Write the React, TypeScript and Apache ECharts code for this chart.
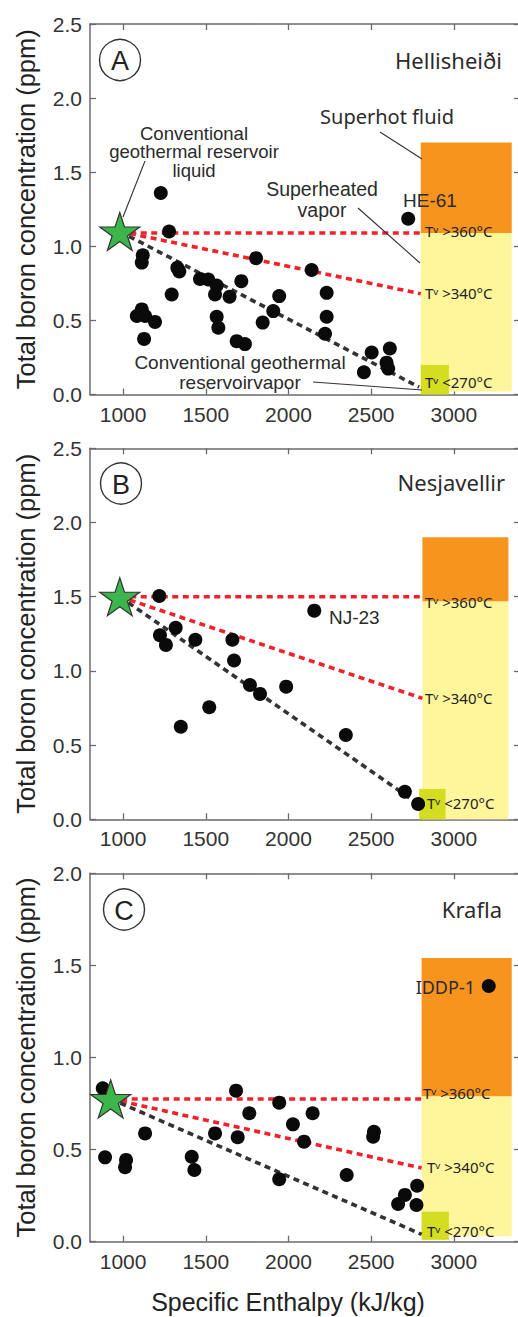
import React, { useEffect, useRef } from 'react';
import * as echarts from 'echarts';

// ---------- data ----------
const xTicks = [1000, 1500, 2000, 2500, 3000];
const yMaxes = [2.5, 2.5, 2.0];
const yAxisName = 'Total boron concentration (ppm)';
const xAxisName = 'Specific Enthalpy (kJ/kg)';

// Panel A – Hellisheiði
const hellisheidiEnthalpy = [1228, 1278, 1119, 1113, 1328, 1340, 1465, 1515, 1566, 1556, 1644, 1715, 1804, 1294, 1113, 1083, 1133, 1193, 1127, 1566, 1576, 1687, 1737, 1844, 2140, 2231, 2231, 2221, 1944, 1908, 2503, 2613, 2593, 2603, 2456];
const hellisheidiBoron = [1.36, 1.1, 0.94, 0.89, 0.855, 0.83, 0.78, 0.776, 0.735, 0.675, 0.66, 0.765, 0.92, 0.675, 0.574, 0.53, 0.53, 0.49, 0.375, 0.525, 0.45, 0.36, 0.34, 0.485, 0.84, 0.686, 0.525, 0.41, 0.664, 0.563, 0.283, 0.31, 0.215, 0.175, 0.15];
const hellisheidiWell = [2724, 1.186]; // HE-61
const hellisheidiStar = [980, 1.1];
const hellisheidiEnds = [[2800, 1.09], [2800, 0.68], [2790, 0.05]];
// zones: [xFrom, xTo, yFrom, yTo]
const hellisheidiSuperheated = [2800, 3350, 0.02, 1.09];
const hellisheidiSuperhot = [2800, 3350, 1.09, 1.7];
const hellisheidiConvVapor = [2800, 2970, 0, 0.2];

// Panel B – Nesjavellir
const nesjavellirEnthalpy = [1219, 1318, 1223, 1259, 1437, 1661, 1671, 1767, 1828, 1986, 1521, 1349, 2347, 2704, 2784];
const nesjavellirBoron = [1.505, 1.29, 1.24, 1.175, 1.21, 1.21, 1.07, 0.905, 0.845, 0.894, 0.755, 0.624, 0.568, 0.186, 0.103];
const nesjavellirWell = [2156, 1.406]; // NJ-23
const nesjavellirStar = [980, 1.5];
const nesjavellirEnds = [[2810, 1.5], [2810, 0.815], [2790, 0.1]];
const nesjavellirSuperheated = [2810, 3330, 0, 1.47];
const nesjavellirSuperhot = [2810, 3330, 1.47, 1.9];
const nesjavellirConvVapor = [2790, 2950, 0, 0.205];

// Panel C – Krafla
const kraflaEnthalpy = [877, 891, 1018, 1012, 1133, 1415, 1431, 1556, 1683, 1693, 1763, 1944, 1944, 2027, 2146, 2094, 2517, 2512, 2352, 2778, 2704, 2663, 2774];
const kraflaBoron = [0.833, 0.458, 0.444, 0.404, 0.588, 0.461, 0.389, 0.588, 0.82, 0.567, 0.697, 0.755, 0.339, 0.637, 0.697, 0.543, 0.597, 0.57, 0.362, 0.304, 0.254, 0.205, 0.199];
const kraflaWell = [3211, 1.388]; // IDDP-1
const kraflaStar = [925, 0.775];
const kraflaEnds = [[2805, 0.775], [2805, 0.4], [2805, 0.04]];
const kraflaSuperheated = [2805, 3350, 0.03, 0.79];
const kraflaSuperhot = [2805, 3350, 0.79, 1.54];
const kraflaConvVapor = [2805, 2970, 0.01, 0.163];

// ---------- styles ----------
const SANS = "'Liberation Sans', Arial, sans-serif";
const HUMAN = "'Noto Sans', 'DejaVu Sans', sans-serif";
const AXIS_COLOR = '#6a6a6a';
const TEXT_COLOR = '#2b2b2b';
const ORANGE = '#f7941e';
const YELLOW = '#fff69c';
const LIME = '#d5dd22';
const RED = '#f2222b';
const DARK = '#333333';
const STAR_PATH =
  'path://M50 0 L61.23 34.55 L97.55 34.55 L68.16 55.9 L79.39 90.45 L50 69.1 L20.61 90.45 L31.84 55.9 L2.45 34.55 L38.77 34.55 Z';

const grids = [
  { left: 90, top: 24, width: 430, height: 370.5 },
  { left: 90, top: 448.3, width: 430, height: 371 },
  { left: 90, top: 873.3, width: 430, height: 368.4 },
];

const panels = [
  { x: hellisheidiEnthalpy, y: hellisheidiBoron, star: hellisheidiStar, ends: hellisheidiEnds, zones: [hellisheidiSuperheated, hellisheidiSuperhot, hellisheidiConvVapor], well: hellisheidiWell },
  { x: nesjavellirEnthalpy, y: nesjavellirBoron, star: nesjavellirStar, ends: nesjavellirEnds, zones: [nesjavellirSuperheated, nesjavellirSuperhot, nesjavellirConvVapor], well: nesjavellirWell },
  { x: kraflaEnthalpy, y: kraflaBoron, star: kraflaStar, ends: kraflaEnds, zones: [kraflaSuperheated, kraflaSuperhot, kraflaConvVapor], well: kraflaWell },
];

function txt(x: number, y: number, text: string, o: any = {}) {
  const align = o.align || 'center';
  return {
    type: 'text',
    x,
    y,
    z: 100,
    silent: true,
    style: {
      text,
      fill: o.color || TEXT_COLOR,
      fontSize: o.size || 19,
      fontFamily: o.family || SANS,
      align,
      verticalAlign: 'middle',
      textAlign: align,
      textVerticalAlign: 'middle',
    },
  };
}
function leader(x1: number, y1: number, x2: number, y2: number) {
  return { type: 'line', z: 100, silent: true, shape: { x1, y1, x2, y2 }, style: { stroke: '#333', lineWidth: 1.1 } };
}
function circ(cx: number, cy: number, letter: string) {
  return [
    { type: 'circle', z: 100, silent: true, shape: { cx, cy, r: 20.5 }, style: { fill: 'none', stroke: '#333', lineWidth: 1.4 } },
    txt(cx, cy + 1, letter, { size: 27, family: SANS, color: '#222' }),
  ];
}

export default function App() {
  const ref = useRef<HTMLDivElement>(null);
  useEffect(() => {
    if (!ref.current) return;
    const chart = echarts.init(ref.current, null, { renderer: 'svg' });

    const xAxes: any[] = [];
    const yAxes: any[] = [];
    const series: any[] = [];

    grids.forEach((g, i) => {
      const lineStyle = { color: AXIS_COLOR, width: 1.5 };
      const tickStyle = { color: AXIS_COLOR, width: 1.3 };
      xAxes.push({
        type: 'value', gridIndex: i, min: 800, max: 3400, position: 'bottom',
        axisLine: { show: true, onZero: false, lineStyle },
        axisTick: { show: true, inside: true, length: 6, customValues: xTicks, lineStyle: tickStyle },
        axisLabel: { show: true, customValues: xTicks, margin: 9, fontSize: 21, color: '#333', fontFamily: SANS, formatter: (v: number) => String(v) },
        splitLine: { show: false },
      });
      xAxes.push({
        type: 'value', gridIndex: i, min: 800, max: 3400, position: 'top',
        axisLine: { show: true, onZero: false, lineStyle },
        axisTick: { show: true, inside: true, length: 6, customValues: xTicks, lineStyle: tickStyle },
        axisLabel: { show: false },
        splitLine: { show: false },
      });
      yAxes.push({
        type: 'value', gridIndex: i, min: 0, max: yMaxes[i], interval: 0.5, position: 'left',
        axisLine: { show: true, onZero: false, lineStyle },
        axisTick: { show: true, inside: true, length: 6, lineStyle: tickStyle },
        axisLabel: { show: true, margin: 8, fontSize: 21, color: '#333', fontFamily: SANS, formatter: (v: number) => v.toFixed(1) },
        splitLine: { show: false },
        name: yAxisName, nameLocation: 'middle', nameGap: 51, nameRotate: 90,
        nameTextStyle: { fontSize: 25.5, color: '#222', fontFamily: SANS },
      });
      yAxes.push({
        type: 'value', gridIndex: i, min: 0, max: yMaxes[i], interval: 0.5, position: 'right',
        axisLine: { show: true, onZero: false, lineStyle },
        axisTick: { show: true, inside: true, length: 6, lineStyle: tickStyle },
        axisLabel: { show: false },
        splitLine: { show: false },
      });

      const p = panels[i];
      const xi = i * 2;
      const yi = i * 2;
      const [sh, hot, cv] = p.zones;
      series.push({
        type: 'line', xAxisIndex: xi, yAxisIndex: yi, data: [], z: 1, silent: true,
        markArea: {
          silent: true,
          label: { show: false },
          data: [
            [{ xAxis: sh[0], yAxis: sh[2], itemStyle: { color: YELLOW, opacity: 1 } }, { xAxis: sh[1], yAxis: sh[3] }],
            [{ xAxis: hot[0], yAxis: hot[2], itemStyle: { color: ORANGE, opacity: 1 } }, { xAxis: hot[1], yAxis: hot[3] }],
            [{ xAxis: cv[0], yAxis: cv[2], itemStyle: { color: LIME, opacity: 1 } }, { xAxis: cv[1], yAxis: cv[3] }],
          ],
        },
      });
      p.ends.forEach((e, k) => {
        series.push({
          type: 'line', xAxisIndex: xi, yAxisIndex: yi, z: 2, silent: true,
          data: [[p.star[0], k === 0 ? e[1] : p.star[1]], e], symbol: 'none',
          lineStyle: { color: k === 2 ? DARK : RED, width: 3.6, type: [6, 4.5] },
        });
      });
      series.push({
        type: 'scatter', xAxisIndex: xi, yAxisIndex: yi, z: 3, silent: true,
        symbolSize: 14,
        itemStyle: { color: '#0a0a0a', opacity: 1 },
        data: p.x.map((v, k) => [v, p.y[k]]).concat([p.well]),
      });
      series.push({
        type: 'scatter', xAxisIndex: xi, yAxisIndex: yi, z: 4, silent: true,
        symbol: STAR_PATH, symbolSize: [40, 38],
        itemStyle: { color: '#3cb54a', borderColor: '#333', borderWidth: 1.2, opacity: 1 },
        data: [p.star],
      });
    });

    const tv = (x: number, y: number, s: string) => txt(x, y, 'T\u1d5b ' + s, { align: 'left', size: 15, family: HUMAN, color: '#222' });

    const graphic: any[] = [
      // Panel A
      ...circ(120, 60, 'A'),
      txt(502, 60, 'Hellisheiði', { align: 'right', size: 22, family: HUMAN }),
      txt(387, 116, 'Superhot fluid', { size: 20, family: HUMAN }),
      leader(380, 132, 422, 159),
      txt(194, 133, 'Conventional', { size: 18.5 }),
      txt(194, 151.5, 'geothermal reservoir', { size: 18.5 }),
      txt(194, 170, 'liquid', { size: 18.5 }),
      leader(145, 161, 123, 217),
      txt(322, 189, 'Superheated', { size: 19.5 }),
      txt(322, 209.5, 'vapor', { size: 19.5 }),
      leader(358, 208, 420, 263),
      txt(430, 200, 'HE-61', { size: 19 }),
      tv(425, 231, '>360°C'),
      tv(425, 293, '>340°C'),
      tv(425, 382, '<270°C'),
      txt(240, 362.5, 'Conventional geothermal', { size: 19 }),
      txt(240, 382, 'reservoirvapor', { size: 19 }),
      leader(313, 382, 422, 390),
      // Panel B
      ...circ(121, 483.5, 'B'),
      txt(505, 482, 'Nesjavellir', { align: 'right', size: 22, family: HUMAN }),
      txt(329, 617, 'NJ-23', { align: 'left', size: 19 }),
      tv(425, 602, '>360°C'),
      tv(425, 698, '>340°C'),
      tv(427, 803, '<270°C'),
      // Panel C
      ...circ(124, 909.5, 'C'),
      txt(502, 909, 'Krafla', { align: 'right', size: 22, family: HUMAN }),
      txt(475, 987, 'IDDP-1', { align: 'right', size: 18, family: HUMAN }),
      tv(423, 1093, '>360°C'),
      tv(427, 1167, '>340°C'),
      tv(427, 1231, '<270°C'),
      // x-axis title of the bottom panel
      txt(288, 1302, xAxisName, { size: 25, color: '#222' }),
    ];

    chart.setOption({
      animation: false,
      backgroundColor: '#ffffff',
      grid: grids.map((g) => ({ ...g, containLabel: false, outerBoundsMode: 'none' })),
      xAxis: xAxes,
      yAxis: yAxes,
      series,
      graphic,
    });
    return () => chart.dispose();
  }, []);

  return (
    <div
      ref={ref}
      style={{ position: 'fixed', left: 0, top: 0, width: 518, height: 1317, background: '#fff' }}
    />
  );
}
